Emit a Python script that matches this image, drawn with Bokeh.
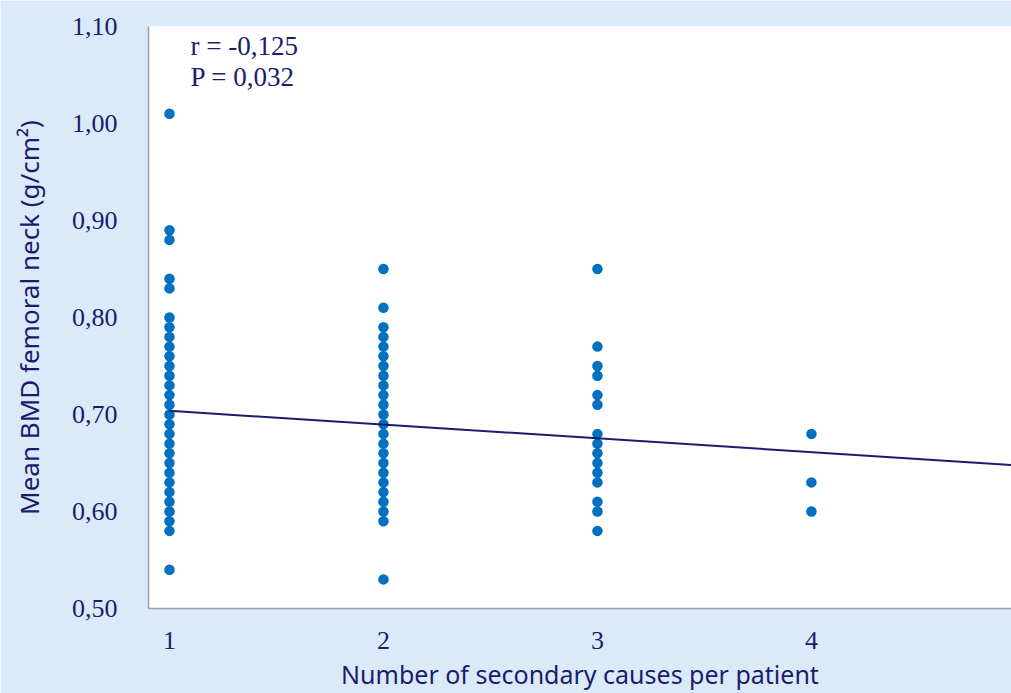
from bokeh.plotting import figure
from bokeh.models import FixedTicker, Range1d, Label
from bokeh.embed import file_html
from bokeh.resources import INLINE

# ---- data ----
causes_1 = [1.01, 0.89, 0.88, 0.84, 0.83, 0.80, 0.79, 0.78, 0.77, 0.76, 0.75, 0.74, 0.73,
            0.72, 0.71, 0.70, 0.69, 0.68, 0.67, 0.66, 0.65, 0.64, 0.63, 0.62, 0.61, 0.60,
            0.59, 0.58, 0.54]
causes_2 = [0.85, 0.81, 0.79, 0.78, 0.77, 0.76, 0.75, 0.74, 0.73, 0.72, 0.71, 0.70, 0.69,
            0.68, 0.67, 0.66, 0.65, 0.64, 0.63, 0.62, 0.61, 0.60, 0.59, 0.53]
causes_3 = [0.85, 0.77, 0.75, 0.74, 0.72, 0.71, 0.68, 0.67, 0.66, 0.65, 0.64, 0.63, 0.61,
            0.60, 0.58]
causes_4 = [0.68, 0.63, 0.60]
groups = [1, 2, 3, 4]
trend_intercept = 0.718
trend_slope = -0.0142
y_ticks = [0.50, 0.60, 0.70, 0.80, 0.90, 1.00, 1.10]
y_tick_labels = ["0,50", "0,60", "0,70", "0,80", "0,90", "1,00", "1,10"]
x_ticks = [1, 2, 3, 4]
x_tick_labels = ["1", "2", "3", "4"]
stats_lines = ["r = -0,125", "P = 0,032"]

BG = "#DAEAF9"
NAVY = "#1C1C6E"
DOT = "#0070C0"

x_start, x_end = 0.902, 4.935

p = figure(width=1011, height=693, output_backend="svg", toolbar_location=None,
           x_range=Range1d(x_start, x_end), y_range=Range1d(0.5, 1.1),
           min_border_left=148, min_border_right=0, min_border_top=26, min_border_bottom=83)
p.background_fill_color = "white"
p.border_fill_color = BG
p.outline_line_color = None
p.grid.visible = False

xs, ys = [], []
for g, vals in zip(groups, [causes_1, causes_2, causes_3, causes_4]):
    xs += [g] * len(vals)
    ys += vals
p.scatter(xs, ys, size=10.5, fill_color=DOT, line_color=None)

lx = [1, x_end]
ly = [trend_intercept + trend_slope * v for v in lx]
p.line(lx, ly, line_color=NAVY, line_width=2)

for ax in (p.xaxis[0], p.yaxis[0]):
    ax.axis_line_color = "#9C9CB6"
    ax.axis_line_width = 1.5
    ax.major_tick_line_color = None
    ax.minor_tick_line_color = None
    ax.major_label_text_font = "Liberation Serif"
    ax.major_label_text_font_size = "26px"
    ax.major_label_text_color = NAVY
    ax.axis_label_text_font = "Noto Sans"
    ax.axis_label_text_font_style = "normal"
    ax.axis_label_text_color = NAVY

p.yaxis.ticker = FixedTicker(ticks=y_ticks)
p.yaxis.major_label_overrides = dict(zip(y_ticks, y_tick_labels))
p.yaxis.major_label_standoff = 25
p.yaxis.axis_label = "Mean BMD femoral neck (g/cm\u00b2)"
p.yaxis.axis_label_text_font_size = "26px"
p.yaxis.axis_label_standoff = 22

p.xaxis.ticker = FixedTicker(ticks=x_ticks)
p.xaxis.major_label_overrides = dict(zip(x_ticks, x_tick_labels))
p.xaxis.major_label_standoff = 17
p.xaxis.axis_label = "Number of secondary causes per patient"
p.xaxis.axis_label_text_font_size = "25px"
p.xaxis.axis_label_standoff = 5

for i, t in enumerate(stats_lines):
    p.add_layout(Label(x=42, y=563 - 31 * i, x_units="screen", y_units="screen",
                       text=t, text_font="Liberation Serif", text_font_size="27px",
                       text_color=NAVY, text_baseline="middle"))

html = file_html(p, INLINE)
html = html.replace("<body>", '<body style="margin:0; overflow:hidden; background-color:%s;">' % BG, 1)
open("out.html", "w").write(html)
